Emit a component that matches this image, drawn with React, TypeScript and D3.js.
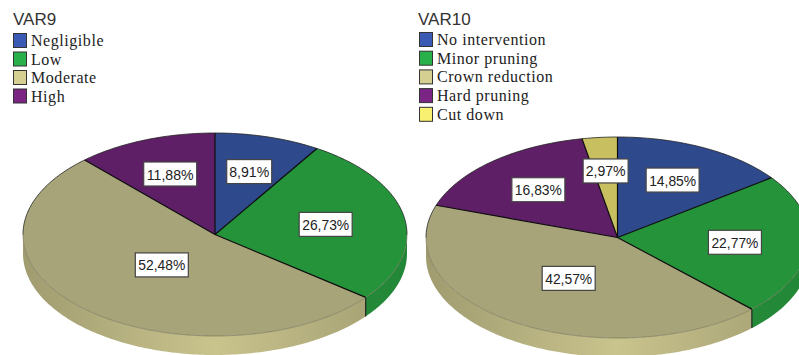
import React from "react";
import * as d3 from "d3";

const var9Labels = ["Negligible", "Low", "Moderate", "High"];
const var9Values = [8.91, 26.73, 52.48, 11.88];
const var10Labels = ["No intervention", "Minor pruning", "Crown reduction", "Hard pruning", "Cut down"];
const var10Values = [14.85, 22.77, 42.57, 16.83, 2.97];

const topColors = ["#2f4a8c", "#25933a", "#a8a47a", "#5f1f66", "#c8c060"];
const swatchColors = ["#3a5ab4", "#28b04a", "#d6cf92", "#7a2484", "#f8f070"];
const sideDark = ["#2c4280", "#228737", "#a09c70", "#501858", "#b0a858"];
const sideLight = ["#34509a", "#28923c", "#c9c38d", "#5f1f66", "#d0c868"];

type PieProps = {
  id: string; title: string; labels: string[]; values: number[];
  cx: number; cy: number; rx: number; ry: number; depth: number;
  legendX: number; legendY: number; titleX: number;
  legendStep: number; labelRadius: number[];
};

const fmt = (v: number) => v.toFixed(2).replace(".", ",") + "%";

function Pie3D(p: PieProps) {
  // Slice angles come from d3.pie; points are placed on a flattened unit circle.
  const slices = d3.pie<number>().sort(null)(p.values);
  const sx = d3.scaleLinear().domain([-1, 1]).range([p.cx - p.rx, p.cx + p.rx]);
  const sy = d3.scaleLinear().domain([-1, 1]).range([p.cy - p.ry, p.cy + p.ry]);
  const point = (a: number, r = 1): [number, number] => [sx(r * Math.sin(a)), sy(-r * Math.cos(a))];
  const rim = (a0: number, a1: number) => {
    const n = Math.max(2, Math.ceil((a1 - a0) * 60));
    return d3.range(n + 1).map((i) => point(a0 + ((a1 - a0) * i) / n));
  };
  const line = d3.line();

  return (
    <g>
      <defs>
        {slices.map((s, i) => (
          <linearGradient key={i} id={`${p.id}-side-${i}`} gradientUnits="userSpaceOnUse"
            x1={p.cx - p.rx} x2={p.cx + p.rx} y1={0} y2={0}>
            <stop offset="0" stopColor={sideDark[i]} />
            <stop offset="0.5" stopColor={sideLight[i]} />
            <stop offset="1" stopColor={sideDark[i]} />
          </linearGradient>
        ))}
      </defs>
      {slices.map((s, i) => {
        // Only the front half of the rim shows below the top face.
        const a0 = Math.max(s.startAngle, Math.PI / 2);
        const a1 = Math.min(s.endAngle, (3 * Math.PI) / 2);
        if (a1 <= a0) return null;
        const top = rim(a0, a1);
        const bottom = top.map(([x, y]) => [x, y + p.depth] as [number, number]).reverse();
        return <path key={i} d={(line([...top, ...bottom]) ?? "") + "Z"} fill={`url(#${p.id}-side-${i})`} />;
      })}
      {slices.map((s, i) => {
        const pts = [[p.cx, p.cy] as [number, number], ...rim(s.startAngle, s.endAngle)];
        return <path key={i} d={(line(pts) ?? "") + "Z"} fill={topColors[i]} />;
      })}
      {/* Faint front edge, a firmer back edge, then the dark spokes between slices */}
      <path d={(line(rim(Math.PI / 2, (3 * Math.PI) / 2)) ?? "")} fill="none" stroke="#6e6c52" strokeWidth={0.6} />
      <path d={(line(rim(-Math.PI / 2, Math.PI / 2)) ?? "")} fill="none" stroke="#222" strokeWidth={0.8} />
      {slices.map((s, i) => (
        <path key={i} d={line([[p.cx, p.cy], point(s.startAngle)]) ?? ""} stroke="#0c0c0c" strokeWidth={1.2} />
      ))}
      {slices.map((s, i) => {
        // A seam runs down the rim where a slice boundary faces the viewer.
        if (s.endAngle <= Math.PI / 2 || s.endAngle >= (3 * Math.PI) / 2) return null;
        const [x, y] = point(s.endAngle);
        return <path key={i} d={line([[x, y], [x, y + p.depth]]) ?? ""} stroke="#222" strokeWidth={1.2} />;
      })}
      {slices.map((s, i) => {
        const [x, y] = point((s.startAngle + s.endAngle) / 2, p.labelRadius[i]);
        const text = fmt(p.values[i]);
        const long = text.length > 5;
        const w = long ? 53 : 45;
        const h = 24;
        return (
          <g key={i} transform={`translate(${x},${y})`}>
            <rect x={-w / 2} y={-h / 2} width={w} height={h} fill="#fff" stroke="#444" strokeWidth={1.2} />
            <text textAnchor="middle" y={5.5} fontSize={15} fontFamily="Liberation Sans, Arial, sans-serif" fill="#222"
              textLength={long ? 47 : 40} lengthAdjust="spacingAndGlyphs">
              {text}
            </text>
          </g>
        );
      })}
      <text x={p.titleX} y={25} fontSize={17} fontFamily="Liberation Sans, Arial, sans-serif" fill="#333">{p.title}</text>
      {p.labels.map((l, i) => (
        <g key={l} transform={`translate(${p.legendX},${p.legendY + i * p.legendStep})`}>
          <rect x={0.5} y={0.5} width={13} height={14} fill={swatchColors[i]} stroke="#333" strokeWidth={1} />
          <text x={18} y={13} fontSize={16} letterSpacing={0.55} fontFamily="Liberation Serif, Times New Roman, serif" fill="#222">{l}</text>
        </g>
      ))}
    </g>
  );
}

export default function App() {
  return (
    <svg width={799} height={355} style={{ position: "absolute", left: 0, top: 0, background: "#fff" }}>
      <Pie3D id="var9" title="VAR9" labels={var9Labels} values={var9Values}
        cx={215} cy={234.5} rx={192} ry={101.5} depth={19}
        legendX={13} legendY={33} titleX={13} legendStep={18.5}
        labelRadius={[0.645, 0.585, 0.408, 0.64]} />
      <Pie3D id="var10" title="VAR10" labels={var10Labels} values={var10Values}
        cx={617.5} cy={237.5} rx={191.5} ry={100.5} depth={19}
        legendX={419} legendY={32} titleX={418} legendStep={18.7}
        labelRadius={[0.64, 0.615, 0.48, 0.63, 0.665]} />
    </svg>
  );
}
